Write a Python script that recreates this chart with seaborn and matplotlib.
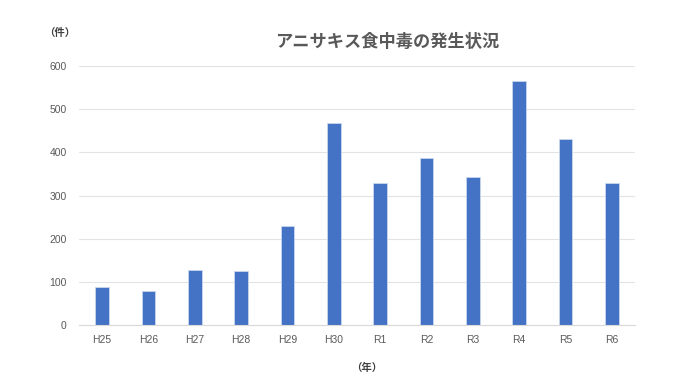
import matplotlib
matplotlib.use("Agg")
import matplotlib.pyplot as plt
import seaborn as sns
import pandas as pd
import numpy as np

years = ["H25", "H26", "H27", "H28", "H29", "H30", "R1", "R2", "R3", "R4", "R5", "R6"]
cases = [88, 79, 127, 124, 230, 468, 328, 386, 344, 566, 432, 330]
yticks = [0, 100, 200, 300, 400, 500, 600]

sns.set_theme(style="white")
plt.rcParams['font.family'] = ['Liberation Sans', 'Noto Sans CJK JP', 'DejaVu Sans']

df = pd.DataFrame({"year": years, "cases": cases})

fig = plt.figure(figsize=(6.9, 3.89), dpi=100)
ax = fig.add_axes([79/690, 1 - 325/389, (635-79)/690, (325-66)/389])

sns.barplot(data=df, x="year", y="cases", color="#4472C4", width=0.3,
            edgecolor="#c9d6ee", linewidth=0.6, ax=ax, saturation=1)

ax.set_ylim(0, 600)
ax.set_xlim(-0.5, len(years) - 0.5)
ax.set_yticks(yticks)
ax.yaxis.grid(True, color="#e3e3e3", linewidth=0.8)
ax.set_axisbelow(True)
for s in ["top", "right", "left"]:
    ax.spines[s].set_visible(False)
ax.spines["bottom"].set_color("#d9d9d9")
ax.spines["bottom"].set_linewidth(0.8)

ax.set_xticks(np.arange(len(years)))
ax.set_xticklabels(years)
ax.set_xticks(np.arange(-0.5, len(years)), minor=True)
ax.tick_params(axis="x", which="major", length=0, pad=7, labelsize=7.5, labelcolor="#595959")
ax.tick_params(axis="x", which="minor", length=4, color="#d9d9d9", width=0.8, direction="out")
ax.tick_params(axis="y", length=0, pad=9, labelsize=7.5, labelcolor="#595959")
ax.set_xlabel("")
ax.set_ylabel("")

cjk = ['Noto Sans CJK JP', 'DejaVu Sans']
fig.text(387/690, 1 - 42/389, "アニサキス食中毒の発生状況", ha="center", va="center",
         fontsize=12.4, color="#595959", fontweight="bold", family=cjk)
fig.text(60/690, 1 - 33/389, "（件）", ha="center", va="center", fontsize=7.5,
         color="#404040", fontweight="bold", family=cjk)
fig.text(367/690, 1 - 368/389, "（年）", ha="center", va="center", fontsize=7.5,
         color="#404040", fontweight="bold", family=cjk)

fig.savefig("out.png", dpi=100)
